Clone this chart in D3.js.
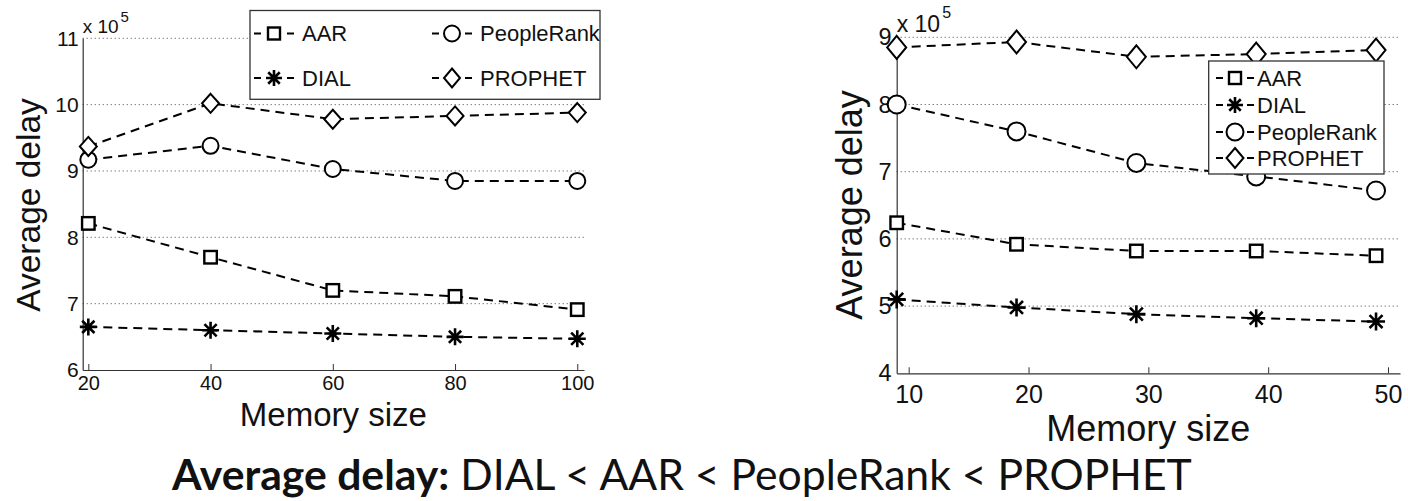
<!DOCTYPE html>
<html>
<head>
<meta charset="utf-8">
<script src="https://cdn.jsdelivr.net/npm/d3@7/dist/d3.min.js"></script>
<style>
  html, body { margin: 0; padding: 0; background: #fff; }
  svg { display: block; }
  text { font-family: "Liberation Sans", Arial, sans-serif; fill: #111; }
</style>
</head>
<body>
<svg id="chart" width="1408" height="501"></svg>
<script>
// Average delay (x 10^5) versus memory size, two experiments
const seriesNames = ["AAR", "DIAL", "PeopleRank", "PROPHET"];

const leftMemory = [20, 40, 60, 80, 100];
const leftAAR = [8.21, 7.70, 7.20, 7.11, 6.91];
const leftDIAL = [6.65, 6.60, 6.55, 6.50, 6.47];
const leftPeopleRank = [9.17, 9.38, 9.03, 8.85, 8.85];
const leftPROPHET = [9.37, 10.02, 9.78, 9.83, 9.88];
const leftXTicks = [20, 40, 60, 80, 100];
const leftYTicks = [6, 7, 8, 9, 10, 11];

const rightMemory = [9, 19, 29, 39, 49];
const rightAAR = [6.24, 5.92, 5.82, 5.82, 5.75];
const rightDIAL = [5.10, 4.98, 4.88, 4.82, 4.77];
const rightPeopleRank = [8.00, 7.60, 7.13, 6.93, 6.72];
const rightPROPHET = [8.85, 8.93, 8.71, 8.75, 8.81];
const rightXTicks = [10, 20, 30, 40, 50];
const rightYTicks = [4, 5, 6, 7, 8, 9];

const xTitle = "Memory size";
const yTitle = "Average delay";
const captionBold = "Average delay:";
const captionRest = " DIAL < AAR < PeopleRank < PROPHET";

const markerKinds = { AAR: "square", DIAL: "star", PeopleRank: "circle", PROPHET: "diamond" };
const FONT = "'Liberation Sans', Arial, sans-serif";

const svg = d3.select("#chart");

function drawMarker(g, kind, x, y, s) {
  const stroke = "#000";
  if (kind === "square") {
    g.append("rect").attr("x", x - s.sq / 2).attr("y", y - s.sq / 2)
      .attr("width", s.sq).attr("height", s.sq)
      .attr("fill", "#fff").attr("stroke", stroke).attr("stroke-width", 2.4);
  } else if (kind === "circle") {
    g.append("circle").attr("cx", x).attr("cy", y).attr("r", s.r)
      .attr("fill", "#fff").attr("stroke", stroke).attr("stroke-width", 2);
  } else if (kind === "diamond") {
    const w = s.dw, h = s.dh;
    g.append("path")
      .attr("d", `M${x},${y - h}L${x + w},${y}L${x},${y + h}L${x - w},${y}Z`)
      .attr("fill", "#fff").attr("stroke", stroke).attr("stroke-width", 2);
  } else if (kind === "star") {
    const a = s.st, b = s.st * 0.72;
    const p = `M${x},${y - a}L${x},${y + a}M${x - a},${y}L${x + a},${y}` +
              `M${x - b},${y - b}L${x + b},${y + b}M${x - b},${y + b}L${x + b},${y - b}`;
    g.append("path").attr("d", p).attr("fill", "none")
      .attr("stroke", stroke).attr("stroke-width", 2.6).attr("stroke-linecap", "butt");
  }
}

function drawPanel(cfg) {
  const g = svg.append("g");
  const x = d3.scaleLinear().domain(cfg.xDomain).range(cfg.xRange);
  const y = d3.scaleLinear().domain(cfg.yDomain).range(cfg.yRange);
  const [x0, x1] = cfg.xRange;

  // horizontal dotted grid
  g.append("g").selectAll("line")
    .data(cfg.yTicks.filter(v => v > cfg.yDomain[0]))
    .join("line")
    .attr("x1", x0).attr("x2", x1)
    .attr("y1", d => y(d)).attr("y2", d => y(d))
    .attr("stroke", "#444").attr("stroke-width", 1)
    .attr("stroke-dasharray", "1,3");

  // x axis with inward ticks
  const xAxis = d3.axisBottom(x).tickValues(cfg.xTicks).tickFormat(d3.format("d"))
    .tickSizeInner(-6).tickSizeOuter(0).tickPadding(cfg.xPad);
  const gx = g.append("g").attr("transform", `translate(0,${cfg.yRange[0]})`).call(xAxis);
  gx.attr("font-family", null);
  gx.select(".domain").attr("stroke", "#333").attr("stroke-width", 1.2);
  gx.selectAll(".tick line").attr("stroke", "#333");
  gx.selectAll(".tick text").style("font-size", cfg.tickFont + "px")
    .style("font-family", FONT).attr("fill", "#111");

  // y axis
  const yAxis = d3.axisLeft(y).tickValues(cfg.yTicks).tickFormat(d3.format("d"))
    .tickSize(0).tickPadding(cfg.yPad);
  const gy = g.append("g").attr("transform", `translate(${x0},0)`).call(yAxis);
  gy.attr("font-family", null);
  gy.select(".domain").attr("stroke", "#333").attr("stroke-width", 1.2);
  gy.selectAll(".tick text").style("font-size", cfg.yTickFont + "px")
    .style("font-family", FONT).attr("fill", "#111");

  // exponent label
  const ex = g.append("text").attr("x", x0).attr("y", cfg.expY)
    .style("font-size", cfg.expFont + "px").text("x 10");
  const exW = ex.node().getComputedTextLength();
  g.append("text").attr("x", x0 + exW + 2).attr("y", cfg.expY - cfg.expFont * 0.6)
    .style("font-size", cfg.supFont + "px").text("5");

  // axis titles
  g.append("text").attr("x", (x0 + x1) / 2).attr("y", cfg.xTitleY)
    .attr("text-anchor", "middle").style("font-size", cfg.titleFont + "px").text(xTitle);
  g.append("text")
    .attr("transform", `translate(${cfg.yTitleX},${cfg.yTitleC}) rotate(-90)`)
    .attr("text-anchor", "middle").style("font-size", cfg.yTitleFont + "px").text(yTitle);

  // series: dashed line then markers
  const line = d3.line().x(d => x(d[0])).y(d => y(d[1]));
  cfg.series.forEach((vals, i) => {
    const name = seriesNames[i];
    const pts = cfg.memory.map((m, j) => [m, vals[j]]);
    const sg = g.append("g");
    sg.append("path").attr("d", line(pts)).attr("fill", "none")
      .attr("stroke", "#000").attr("stroke-width", 2).attr("stroke-dasharray", "9,6");
    pts.forEach(p => drawMarker(sg, markerKinds[name], x(p[0]), y(p[1]), cfg.marker));
  });

  // legend
  const L = cfg.legend;
  const lg = g.append("g");
  lg.append("rect").attr("x", L.x).attr("y", L.y).attr("width", L.w).attr("height", L.h)
    .attr("fill", "#fff").attr("stroke", "#333").attr("stroke-width", 1.3);
  seriesNames.forEach((name, i) => {
    const pos = L.pos[i];
    const mx = pos[0], my = pos[1];
    lg.append("line").attr("x1", mx - L.half).attr("x2", mx + L.half)
      .attr("y1", my).attr("y2", my).attr("stroke", "#000").attr("stroke-width", 2.2)
      .attr("stroke-dasharray", `${L.dash},${2 * L.half - 2 * L.dash},${L.dash}`);
    drawMarker(lg, markerKinds[name], mx, my, cfg.legendMarker);
    lg.append("text").attr("x", mx + L.textOff).attr("y", my).attr("dy", "0.36em")
      .style("font-size", L.font + "px").text(name);
  });
}

drawPanel({
  memory: leftMemory,
  series: [leftAAR, leftDIAL, leftPeopleRank, leftPROPHET],
  xDomain: [19.08, 101.1], xRange: [82.7, 584],
  yDomain: [6, 11], yRange: [370, 38.3],
  xTicks: leftXTicks, yTicks: leftYTicks,
  xPad: 6, yPad: 4, tickFont: 20, yTickFont: 21,
  expY: 33, expFont: 19, supFont: 15,
  xTitleY: 426, titleFont: 33, yTitleX: 40, yTitleC: 205, yTitleFont: 33.5,
  marker: { sq: 12.5, r: 8, dw: 8.5, dh: 9.5, st: 8.5 },
  legendMarker: { sq: 12, r: 8, dw: 8, dh: 9.5, st: 8 },
  legend: {
    x: 250, y: 10.5, w: 350, h: 88.8, half: 20, dash: 7, textOff: 28, font: 22,
    pos: [[274, 33.5], [274, 78], [452, 33.5], [452, 78]]
  }
});

drawPanel({
  memory: rightMemory,
  series: [rightAAR, rightDIAL, rightPeopleRank, rightPROPHET],
  xDomain: [9, 51], xRange: [896.7, 1400],
  yDomain: [4, 9], yRange: [373.3, 37.3],
  xTicks: rightXTicks, yTicks: rightYTicks,
  xPad: 12, yPad: 5, tickFont: 25, yTickFont: 23.5,
  expY: 32, expFont: 23, supFont: 16,
  xTitleY: 441, titleFont: 36, yTitleX: 862, yTitleC: 205, yTitleFont: 36,
  marker: { sq: 12.5, r: 9, dw: 9.5, dh: 11.5, st: 9 },
  legendMarker: { sq: 12, r: 8.5, dw: 8.5, dh: 10, st: 8 },
  legend: {
    x: 1208.7, y: 61, w: 175.3, h: 113, half: 19, dash: 7, textOff: 22, font: 22,
    pos: [[1235, 78], [1235, 105], [1235, 132], [1235, 158]]
  }
});

// caption below both panels, sized to span its line
const capLeft = 172, capRight = 1192;
const cap = svg.append("text").attr("x", capLeft).attr("y", 490)
  .style("font-family", "Lato, 'Open Sans', sans-serif").style("font-size", "40px");
cap.append("tspan").style("font-weight", "bold").text(captionBold);
cap.append("tspan").text(captionRest);
const capW = cap.node().getComputedTextLength();
cap.style("font-size", (40 * (capRight - capLeft) / capW).toFixed(2) + "px");
</script>
</body>
</html>
